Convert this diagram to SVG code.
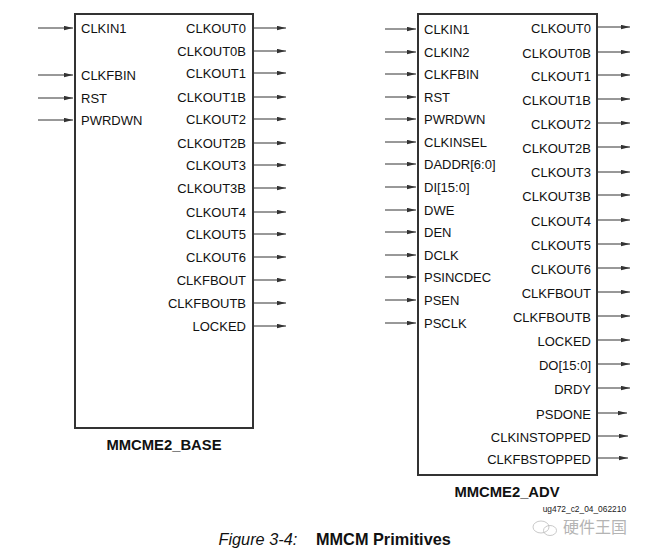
<svg xmlns="http://www.w3.org/2000/svg" width="649" height="555" viewBox="0 0 649 555">
<style>
.box{fill:#fff;stroke:#333;stroke-width:2}
.lbl{font-family:"Liberation Sans",Arial,sans-serif;font-size:13px;fill:#111}
.r{text-anchor:end}
.ttl{font-family:"Liberation Sans",Arial,sans-serif;font-size:14.8px;font-weight:bold;fill:#111;text-anchor:middle}
.pin{stroke:#333;stroke-width:1;fill:none;marker-end:url(#ah)}
.cap{font-family:"Liberation Sans",Arial,sans-serif;font-size:16.3px;fill:#111}
</style>
<defs>
<marker id="ah" markerUnits="userSpaceOnUse" markerWidth="10" markerHeight="6" refX="9" refY="2.2" orient="auto">
<path d="M0,0 L9,2.2 L0,4.4 z" fill="#333"/>
</marker>
</defs>
<rect width="649" height="555" fill="#fff"/>

<g id="connectors">
<!-- left inputs -->
<line class="pin" x1="38" y1="28" x2="73" y2="28"/>
<line class="pin" x1="38" y1="75" x2="73" y2="75"/>
<line class="pin" x1="38" y1="98" x2="73" y2="98"/>
<line class="pin" x1="38" y1="120" x2="73" y2="120"/>
<!-- left outputs -->
<line class="pin" x1="253" y1="28" x2="286" y2="28"/>
<line class="pin" x1="253" y1="51" x2="286" y2="51"/>
<line class="pin" x1="253" y1="73" x2="286" y2="73"/>
<line class="pin" x1="253" y1="97" x2="286" y2="97"/>
<line class="pin" x1="253" y1="119" x2="286" y2="119"/>
<line class="pin" x1="253" y1="143" x2="286" y2="143"/>
<line class="pin" x1="253" y1="165" x2="286" y2="165"/>
<line class="pin" x1="253" y1="188" x2="286" y2="188"/>
<line class="pin" x1="253" y1="212" x2="286" y2="212"/>
<line class="pin" x1="253" y1="234" x2="286" y2="234"/>
<line class="pin" x1="253" y1="257" x2="286" y2="257"/>
<line class="pin" x1="253" y1="280" x2="286" y2="280"/>
<line class="pin" x1="253" y1="303" x2="286" y2="303"/>
<line class="pin" x1="253" y1="326" x2="286" y2="326"/>
<!-- right inputs -->
<line class="pin" x1="385" y1="29" x2="416" y2="29"/>
<line class="pin" x1="385" y1="52" x2="416" y2="52"/>
<line class="pin" x1="385" y1="74" x2="416" y2="74"/>
<line class="pin" x1="385" y1="97" x2="416" y2="97"/>
<line class="pin" x1="385" y1="119" x2="416" y2="119"/>
<line class="pin" x1="385" y1="142" x2="416" y2="142"/>
<line class="pin" x1="385" y1="164" x2="416" y2="164"/>
<line class="pin" x1="385" y1="187" x2="416" y2="187"/>
<line class="pin" x1="385" y1="210" x2="416" y2="210"/>
<line class="pin" x1="385" y1="232" x2="416" y2="232"/>
<line class="pin" x1="385" y1="255" x2="416" y2="255"/>
<line class="pin" x1="385" y1="277" x2="416" y2="277"/>
<line class="pin" x1="385" y1="300" x2="416" y2="300"/>
<line class="pin" x1="385" y1="323" x2="416" y2="323"/>
<!-- right outputs -->
<line class="pin" x1="597" y1="27" x2="630" y2="27"/>
<line class="pin" x1="597" y1="52" x2="630" y2="52"/>
<line class="pin" x1="597" y1="75" x2="630" y2="75"/>
<line class="pin" x1="597" y1="99" x2="630" y2="99"/>
<line class="pin" x1="597" y1="123" x2="630" y2="123"/>
<line class="pin" x1="597" y1="147" x2="630" y2="147"/>
<line class="pin" x1="597" y1="172" x2="630" y2="172"/>
<line class="pin" x1="597" y1="195" x2="630" y2="195"/>
<line class="pin" x1="597" y1="220" x2="630" y2="220"/>
<line class="pin" x1="597" y1="244" x2="630" y2="244"/>
<line class="pin" x1="597" y1="268" x2="630" y2="268"/>
<line class="pin" x1="597" y1="292" x2="630" y2="292"/>
<line class="pin" x1="597" y1="316" x2="630" y2="316"/>
<line class="pin" x1="597" y1="340" x2="630" y2="340"/>
<line class="pin" x1="597" y1="364" x2="630" y2="364"/>
<line class="pin" x1="597" y1="388" x2="630" y2="388"/>
<line class="pin" x1="597" y1="413" x2="627" y2="413"/>
<line class="pin" x1="597" y1="436" x2="628" y2="436"/>
<line class="pin" x1="597" y1="458" x2="628" y2="458"/>
</g>

<g id="mmcme2_base">
<rect class="box" x="75" y="14" width="178" height="414"/>
<text class="lbl" x="81" y="33">CLKIN1</text>
<text class="lbl" x="81" y="80">CLKFBIN</text>
<text class="lbl" x="81" y="103">RST</text>
<text class="lbl" x="81" y="125">PWRDWN</text>
<text class="lbl r" x="246" y="33">CLKOUT0</text>
<text class="lbl r" x="246" y="56">CLKOUT0B</text>
<text class="lbl r" x="246" y="78">CLKOUT1</text>
<text class="lbl r" x="246" y="102">CLKOUT1B</text>
<text class="lbl r" x="246" y="124">CLKOUT2</text>
<text class="lbl r" x="246" y="148">CLKOUT2B</text>
<text class="lbl r" x="246" y="170">CLKOUT3</text>
<text class="lbl r" x="246" y="193">CLKOUT3B</text>
<text class="lbl r" x="246" y="217">CLKOUT4</text>
<text class="lbl r" x="246" y="239">CLKOUT5</text>
<text class="lbl r" x="246" y="262">CLKOUT6</text>
<text class="lbl r" x="246" y="285">CLKFBOUT</text>
<text class="lbl r" x="246" y="308">CLKFBOUTB</text>
<text class="lbl r" x="246" y="331">LOCKED</text>
<text class="ttl" x="164" y="450">MMCME2_BASE</text>
</g>

<g id="mmcme2_adv">
<rect class="box" x="418" y="14" width="179" height="461"/>
<text class="lbl" x="424" y="33.5">CLKIN1</text>
<text class="lbl" x="424" y="56.5">CLKIN2</text>
<text class="lbl" x="424" y="78.5">CLKFBIN</text>
<text class="lbl" x="424" y="101.5">RST</text>
<text class="lbl" x="424" y="123.5">PWRDWN</text>
<text class="lbl" x="424" y="146.5">CLKINSEL</text>
<text class="lbl" x="424" y="168.5">DADDR[6:0]</text>
<text class="lbl" x="424" y="191.5">DI[15:0]</text>
<text class="lbl" x="424" y="214.5">DWE</text>
<text class="lbl" x="424" y="236.5">DEN</text>
<text class="lbl" x="424" y="259.5">DCLK</text>
<text class="lbl" x="424" y="281.5">PSINCDEC</text>
<text class="lbl" x="424" y="304.5">PSEN</text>
<text class="lbl" x="424" y="327.5">PSCLK</text>
<text class="lbl r" x="591" y="32.5">CLKOUT0</text>
<text class="lbl r" x="591" y="57.5">CLKOUT0B</text>
<text class="lbl r" x="591" y="80.5">CLKOUT1</text>
<text class="lbl r" x="591" y="104.5">CLKOUT1B</text>
<text class="lbl r" x="591" y="128.5">CLKOUT2</text>
<text class="lbl r" x="591" y="152.5">CLKOUT2B</text>
<text class="lbl r" x="591" y="177">CLKOUT3</text>
<text class="lbl r" x="591" y="200.5">CLKOUT3B</text>
<text class="lbl r" x="591" y="225.5">CLKOUT4</text>
<text class="lbl r" x="591" y="249.5">CLKOUT5</text>
<text class="lbl r" x="591" y="273.5">CLKOUT6</text>
<text class="lbl r" x="591" y="297.5">CLKFBOUT</text>
<text class="lbl r" x="591" y="321.5">CLKFBOUTB</text>
<text class="lbl r" x="591" y="345.5">LOCKED</text>
<text class="lbl r" x="591" y="369.5">DO[15:0]</text>
<text class="lbl r" x="591" y="393.5">DRDY</text>
<text class="lbl r" x="591" y="418.5">PSDONE</text>
<text class="lbl r" x="591" y="441.5">CLKINSTOPPED</text>
<text class="lbl r" x="591" y="463.5">CLKFBSTOPPED</text>
<text class="ttl" x="507" y="497">MMCME2_ADV</text>
</g>

<text x="542.7" y="512" font-family="Liberation Sans, Arial, sans-serif" font-size="8.4" fill="#222">ug472_c2_04_062210</text>

<g id="watermark" fill="none" stroke="#bbb" stroke-width="0.8">
<ellipse cx="541" cy="527" rx="8" ry="6"/>
<ellipse cx="550" cy="530.5" rx="6.5" ry="5"/>
</g>
<text x="563" y="533" font-family="Noto Sans CJK SC, sans-serif" font-size="16" fill="#b4b4b4">硬件王国</text>

<text class="cap" x="218.5" y="545" font-style="italic">Figure 3-4:</text>
<text class="cap" x="316" y="545" font-weight="bold">MMCM Primitives</text>
</svg>
